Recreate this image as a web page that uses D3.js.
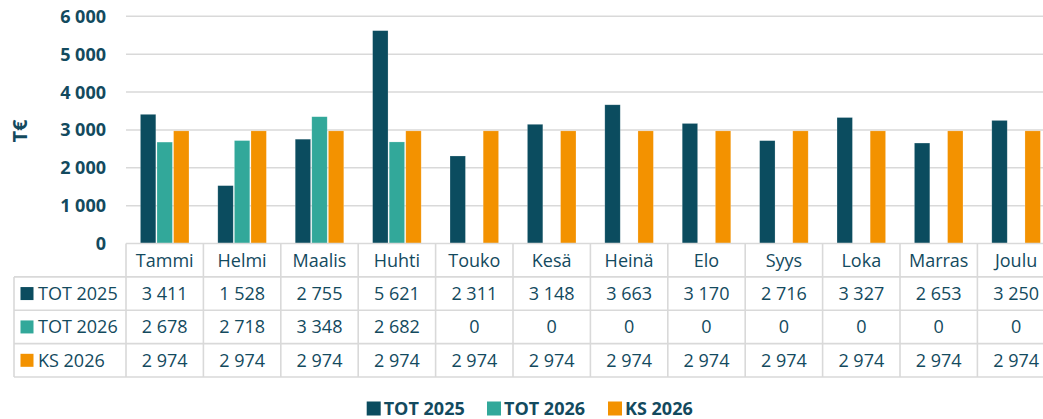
<!DOCTYPE html>
<html lang="fi">
<head>
<meta charset="UTF-8">
<title>TOT / KS</title>
<script src="https://d3js.org/d3.v7.min.js"></script>
<style>
  body { margin: 0; background: #fff; }
  text { font-family: "Open Sans", "Noto Sans", sans-serif; fill: #134a5e; }
</style>
</head>
<body>
<script>
const months = ["Tammi", "Helmi", "Maalis", "Huhti", "Touko", "Kesä", "Heinä", "Elo", "Syys", "Loka", "Marras", "Joulu"];
const series = ["TOT 2025", "TOT 2026", "KS 2026"];
const tot2025 = [3411, 1528, 2755, 5621, 2311, 3148, 3663, 3170, 2716, 3327, 2653, 3250];
const tot2026 = [2678, 2718, 3348, 2682, 0, 0, 0, 0, 0, 0, 0, 0];
const ks2026 = [2974, 2974, 2974, 2974, 2974, 2974, 2974, 2974, 2974, 2974, 2974, 2974];
const yTicks = [0, 1000, 2000, 3000, 4000, 5000, 6000];
const colors = ["#0b4c5f", "#32a89a", "#f39200"];

const values = [tot2025, tot2026, ks2026];
const width = 1043, height = 419;
const grid = "#d9d9d9";

const svg = d3.select("body").append("svg")
  .attr("width", width)
  .attr("height", height);

// scales
const x0 = d3.scaleBand().domain(months).range([126, 1054.8]);
const x1 = d3.scaleBand().domain(series).range([0, x0.bandwidth()])
  .paddingInner(0.07).paddingOuter(0.87);
const y = d3.scaleLinear().domain([0, 6000]).range([243.5, 16.3]);
const rows = d3.scaleBand().domain(["head"].concat(series)).range([243.5, 377]);

const fmt = v => d3.format(",")(v).replace(/,/g, "\u00a0");

// gridlines
svg.append("g").selectAll("line")
  .data(yTicks.slice(1))
  .join("line")
  .attr("x1", 126).attr("x2", width)
  .attr("y1", d => y(d)).attr("y2", d => y(d))
  .attr("stroke", grid).attr("stroke-width", 1.5);

// y labels
svg.append("g").selectAll("text")
  .data(yTicks)
  .join("text")
  .attr("x", 106)
  .attr("y", d => y(d) + 6.5)
  .attr("text-anchor", "end")
  .style("font-size", "18px")
  .style("font-weight", "bold")
  .text(fmt);

svg.append("text")
  .attr("transform", "translate(26.5,131) rotate(-90)")
  .attr("text-anchor", "middle")
  .style("font-size", "20px")
  .style("font-weight", "bold")
  .text("T€");

// bars
const groups = svg.append("g").selectAll("g")
  .data(months)
  .join("g")
  .attr("transform", d => `translate(${x0(d)},0)`);

groups.selectAll("rect")
  .data((m, i) => series.map((s, j) => ({ s: s, v: values[j][i], c: colors[j] })))
  .join("rect")
  .attr("x", d => x1(d.s))
  .attr("width", x1.bandwidth())
  .attr("y", d => y(d.v))
  .attr("height", d => y(0) - y(d.v))
  .attr("fill", d => d.c)
  .attr("stroke", "#fff")
  .attr("stroke-opacity", 0.35)
  .attr("stroke-width", 0.6);

// table
const table = svg.append("g");
const rowBounds = rows.domain().map(r => rows(r) + rows.bandwidth());

// horizontal lines
table.selectAll("line.h")
  .data([rows("head")].concat(rowBounds))
  .join("line")
  .attr("class", "h")
  .attr("x1", (d, i) => i < 1 ? 126 : 14).attr("x2", width)
  .attr("y1", d => d).attr("y2", d => d)
  .attr("stroke", grid).attr("stroke-width", 1.6);

// vertical lines
const colEdges = months.map(m => x0(m)).concat([x0(months[11]) + x0.bandwidth()]);
table.selectAll("line.v")
  .data(colEdges)
  .join("line")
  .attr("class", "v")
  .attr("x1", d => d).attr("x2", d => d)
  .attr("y1", rows("head")).attr("y2", 377)
  .attr("stroke", grid).attr("stroke-width", 1.6);
table.append("line")
  .attr("x1", 14).attr("x2", 14)
  .attr("y1", rows(series[0])).attr("y2", 377)
  .attr("stroke", grid).attr("stroke-width", 1.6);

// month headers
table.selectAll("text.m")
  .data(months)
  .join("text")
  .attr("class", "m")
  .attr("x", d => x0(d) + x0.bandwidth() / 2)
  .attr("y", rows("head") + rows.bandwidth() / 2 + 6.5)
  .attr("text-anchor", "middle")
  .style("font-size", "18px")
  .text(d => d);

// series rows
series.forEach((s, j) => {
  const cy = rows(s) + rows.bandwidth() / 2;
  table.append("rect")
    .attr("x", 20.5).attr("y", cy - 6.5)
    .attr("width", 13).attr("height", 13)
    .attr("fill", colors[j]);
  table.append("text")
    .attr("x", 38).attr("y", cy + 6.5)
    .style("font-size", "18px")
    .text(s);
  table.selectAll("text.v" + j)
    .data(values[j])
    .join("text")
    .attr("class", "v" + j)
    .attr("x", (d, i) => x0(months[i]) + x0.bandwidth() / 2)
    .attr("y", cy + 6.5)
    .attr("text-anchor", "middle")
    .style("font-size", "18px")
    .text(fmt);
});

// legend
const legendX = [366.7, 487, 608];
const legend = svg.append("g").selectAll("g")
  .data(series)
  .join("g")
  .attr("transform", (d, i) => `translate(${legendX[i]},0)`);
legend.append("rect")
  .attr("x", 0).attr("y", 401.5)
  .attr("width", 14).attr("height", 14)
  .attr("fill", (d, i) => colors[i]);
legend.append("text")
  .attr("x", 17).attr("y", 415)
  .style("font-size", "18px")
  .style("font-weight", "bold")
  .text(d => d);
</script>
</body>
</html>
